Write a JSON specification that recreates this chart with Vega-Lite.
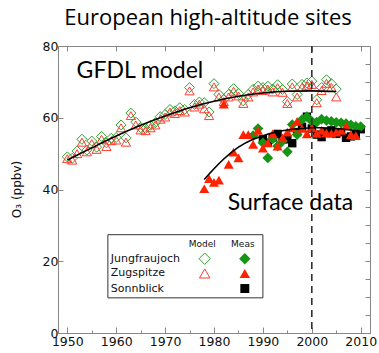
{
  "$schema": "https://vega.github.io/schema/vega-lite/v6.json",
  "width": 312,
  "height": 287,
  "autosize": "none",
  "padding": {"left": 58, "top": 46, "right": 9, "bottom": 20},
  "background": "white",
  "title": {"text": "European high-altitude sites", "font": "Open Sans", "fontSize": 22, "fontWeight": "normal", "color": "#000", "anchor": "middle", "baseline": "alphabetic", "offset": 6, "dx": -6, "dy": 13},
  "config": {
    "view": {"stroke": "#888", "strokeWidth": 1},
    "axis": {"grid": false, "domain": false, "tickColor": "#888", "tickWidth": 1, "labelFont": "DejaVu Sans", "labelFontSize": 12.5, "labelColor": "#111", "titleFont": "DejaVu Sans", "titleFontWeight": "normal", "titleColor": "#111"}
  },
  "datasets": {
    "model": [
      {"year": 1950, "site": "Jungfraujoch", "o3": 49.1}, {"year": 1951, "site": "Jungfraujoch", "o3": 48.7}, {"year": 1952, "site": "Jungfraujoch", "o3": 50.7}, {"year": 1953, "site": "Jungfraujoch", "o3": 54.0}, {"year": 1954, "site": "Jungfraujoch", "o3": 51.0}, {"year": 1955, "site": "Jungfraujoch", "o3": 53.5}, {"year": 1956, "site": "Jungfraujoch", "o3": 51.8}, {"year": 1957, "site": "Jungfraujoch", "o3": 54.8}, {"year": 1958, "site": "Jungfraujoch", "o3": 53.0}, {"year": 1959, "site": "Jungfraujoch", "o3": 54.3},
      {"year": 1960, "site": "Jungfraujoch", "o3": 54.5}, {"year": 1961, "site": "Jungfraujoch", "o3": 58.0}, {"year": 1962, "site": "Jungfraujoch", "o3": 54.4}, {"year": 1963, "site": "Jungfraujoch", "o3": 61.3}, {"year": 1964, "site": "Jungfraujoch", "o3": 58.8}, {"year": 1965, "site": "Jungfraujoch", "o3": 57.2}, {"year": 1966, "site": "Jungfraujoch", "o3": 57.0}, {"year": 1967, "site": "Jungfraujoch", "o3": 57.9}, {"year": 1968, "site": "Jungfraujoch", "o3": 58.6}, {"year": 1969, "site": "Jungfraujoch", "o3": 60.3},
      {"year": 1970, "site": "Jungfraujoch", "o3": 60.9}, {"year": 1971, "site": "Jungfraujoch", "o3": 62.3}, {"year": 1972, "site": "Jungfraujoch", "o3": 61.9}, {"year": 1973, "site": "Jungfraujoch", "o3": 62.8}, {"year": 1974, "site": "Jungfraujoch", "o3": 62.3}, {"year": 1975, "site": "Jungfraujoch", "o3": 68.4}, {"year": 1976, "site": "Jungfraujoch", "o3": 63.7}, {"year": 1977, "site": "Jungfraujoch", "o3": 64.4}, {"year": 1978, "site": "Jungfraujoch", "o3": 64.2}, {"year": 1979, "site": "Jungfraujoch", "o3": 61.6},
      {"year": 1980, "site": "Jungfraujoch", "o3": 69.5}, {"year": 1981, "site": "Jungfraujoch", "o3": 66.5}, {"year": 1982, "site": "Jungfraujoch", "o3": 65.1}, {"year": 1983, "site": "Jungfraujoch", "o3": 66.5}, {"year": 1984, "site": "Jungfraujoch", "o3": 68.1}, {"year": 1985, "site": "Jungfraujoch", "o3": 66.8}, {"year": 1986, "site": "Jungfraujoch", "o3": 64.7}, {"year": 1987, "site": "Jungfraujoch", "o3": 66.5}, {"year": 1988, "site": "Jungfraujoch", "o3": 67.9}, {"year": 1989, "site": "Jungfraujoch", "o3": 68.8},
      {"year": 1990, "site": "Jungfraujoch", "o3": 68.4}, {"year": 1991, "site": "Jungfraujoch", "o3": 68.8}, {"year": 1992, "site": "Jungfraujoch", "o3": 68.0}, {"year": 1993, "site": "Jungfraujoch", "o3": 69.2}, {"year": 1994, "site": "Jungfraujoch", "o3": 67.9}, {"year": 1995, "site": "Jungfraujoch", "o3": 64.5}, {"year": 1996, "site": "Jungfraujoch", "o3": 69.4}, {"year": 1997, "site": "Jungfraujoch", "o3": 66.5}, {"year": 1998, "site": "Jungfraujoch", "o3": 69.3}, {"year": 1999, "site": "Jungfraujoch", "o3": 69.7},
      {"year": 2000, "site": "Jungfraujoch", "o3": 70.2}, {"year": 2001, "site": "Jungfraujoch", "o3": 65.0}, {"year": 2002, "site": "Jungfraujoch", "o3": 68.4}, {"year": 2003, "site": "Jungfraujoch", "o3": 70.6}, {"year": 2004, "site": "Jungfraujoch", "o3": 69.5}, {"year": 2005, "site": "Jungfraujoch", "o3": 68.0},
      {"year": 1950, "site": "Zugspitze", "o3": 48.6}, {"year": 1951, "site": "Zugspitze", "o3": 48.2}, {"year": 1952, "site": "Zugspitze", "o3": 50.0}, {"year": 1953, "site": "Zugspitze", "o3": 53.2}, {"year": 1954, "site": "Zugspitze", "o3": 50.5}, {"year": 1955, "site": "Zugspitze", "o3": 52.8}, {"year": 1956, "site": "Zugspitze", "o3": 51.2}, {"year": 1957, "site": "Zugspitze", "o3": 54.0}, {"year": 1958, "site": "Zugspitze", "o3": 52.0}, {"year": 1959, "site": "Zugspitze", "o3": 53.6},
      {"year": 1960, "site": "Zugspitze", "o3": 53.8}, {"year": 1961, "site": "Zugspitze", "o3": 57.2}, {"year": 1962, "site": "Zugspitze", "o3": 53.2}, {"year": 1963, "site": "Zugspitze", "o3": 60.6}, {"year": 1964, "site": "Zugspitze", "o3": 58.0}, {"year": 1965, "site": "Zugspitze", "o3": 56.6}, {"year": 1966, "site": "Zugspitze", "o3": 56.4}, {"year": 1967, "site": "Zugspitze", "o3": 57.2}, {"year": 1968, "site": "Zugspitze", "o3": 58.0}, {"year": 1969, "site": "Zugspitze", "o3": 59.6},
      {"year": 1970, "site": "Zugspitze", "o3": 60.2}, {"year": 1971, "site": "Zugspitze", "o3": 61.6}, {"year": 1972, "site": "Zugspitze", "o3": 61.2}, {"year": 1973, "site": "Zugspitze", "o3": 62.0}, {"year": 1974, "site": "Zugspitze", "o3": 61.6}, {"year": 1975, "site": "Zugspitze", "o3": 67.5}, {"year": 1976, "site": "Zugspitze", "o3": 63.0}, {"year": 1977, "site": "Zugspitze", "o3": 63.8}, {"year": 1978, "site": "Zugspitze", "o3": 62.5}, {"year": 1979, "site": "Zugspitze", "o3": 60.6},
      {"year": 1980, "site": "Zugspitze", "o3": 68.6}, {"year": 1981, "site": "Zugspitze", "o3": 65.8}, {"year": 1982, "site": "Zugspitze", "o3": 64.5}, {"year": 1983, "site": "Zugspitze", "o3": 65.8}, {"year": 1984, "site": "Zugspitze", "o3": 67.4}, {"year": 1985, "site": "Zugspitze", "o3": 66.1}, {"year": 1986, "site": "Zugspitze", "o3": 64.0}, {"year": 1987, "site": "Zugspitze", "o3": 65.8}, {"year": 1988, "site": "Zugspitze", "o3": 67.2}, {"year": 1989, "site": "Zugspitze", "o3": 68.0},
      {"year": 1990, "site": "Zugspitze", "o3": 67.6}, {"year": 1991, "site": "Zugspitze", "o3": 68.0}, {"year": 1992, "site": "Zugspitze", "o3": 67.2}, {"year": 1993, "site": "Zugspitze", "o3": 68.4}, {"year": 1994, "site": "Zugspitze", "o3": 67.1}, {"year": 1995, "site": "Zugspitze", "o3": 64.0}, {"year": 1996, "site": "Zugspitze", "o3": 68.6}, {"year": 1997, "site": "Zugspitze", "o3": 65.8}, {"year": 1998, "site": "Zugspitze", "o3": 68.5}, {"year": 1999, "site": "Zugspitze", "o3": 68.9},
      {"year": 2000, "site": "Zugspitze", "o3": 69.3}, {"year": 2001, "site": "Zugspitze", "o3": 64.2}, {"year": 2002, "site": "Zugspitze", "o3": 67.6}, {"year": 2003, "site": "Zugspitze", "o3": 69.6}, {"year": 2004, "site": "Zugspitze", "o3": 68.5}, {"year": 2005, "site": "Zugspitze", "o3": 65.8}
    ],
    "meas": [
      {"year": 1990, "site": "Sonnblick", "o3": 54.0}, {"year": 1991, "site": "Sonnblick", "o3": 53.0}, {"year": 1992, "site": "Sonnblick", "o3": 54.5}, {"year": 1993, "site": "Sonnblick", "o3": 55.5}, {"year": 1994, "site": "Sonnblick", "o3": 54.0}, {"year": 1995, "site": "Sonnblick", "o3": 54.0}, {"year": 1996, "site": "Sonnblick", "o3": 52.9}, {"year": 1997, "site": "Sonnblick", "o3": 56.0}, {"year": 1998, "site": "Sonnblick", "o3": 57.5}, {"year": 1999, "site": "Sonnblick", "o3": 60.3},
      {"year": 2000, "site": "Sonnblick", "o3": 57.0}, {"year": 2001, "site": "Sonnblick", "o3": 55.3}, {"year": 2002, "site": "Sonnblick", "o3": 54.6}, {"year": 2003, "site": "Sonnblick", "o3": 56.0}, {"year": 2004, "site": "Sonnblick", "o3": 56.5}, {"year": 2005, "site": "Sonnblick", "o3": 55.5}, {"year": 2006, "site": "Sonnblick", "o3": 56.0}, {"year": 2007, "site": "Sonnblick", "o3": 54.4}, {"year": 2008, "site": "Sonnblick", "o3": 54.8}, {"year": 2009, "site": "Sonnblick", "o3": 55.5}, {"year": 2010, "site": "Sonnblick", "o3": 56.8},
      {"year": 1988, "site": "Jungfraujoch", "o3": 55.0}, {"year": 1989, "site": "Jungfraujoch", "o3": 57.0}, {"year": 1990, "site": "Jungfraujoch", "o3": 53.0}, {"year": 1991, "site": "Jungfraujoch", "o3": 48.8}, {"year": 1992, "site": "Jungfraujoch", "o3": 54.1}, {"year": 1993, "site": "Jungfraujoch", "o3": 52.1}, {"year": 1994, "site": "Jungfraujoch", "o3": 53.5}, {"year": 1995, "site": "Jungfraujoch", "o3": 50.5}, {"year": 1996, "site": "Jungfraujoch", "o3": 58.1}, {"year": 1997, "site": "Jungfraujoch", "o3": 55.3}, {"year": 1998, "site": "Jungfraujoch", "o3": 59.5}, {"year": 1999, "site": "Jungfraujoch", "o3": 60.3},
      {"year": 2000, "site": "Jungfraujoch", "o3": 59.0}, {"year": 2001, "site": "Jungfraujoch", "o3": 58.8}, {"year": 2002, "site": "Jungfraujoch", "o3": 59.6}, {"year": 2003, "site": "Jungfraujoch", "o3": 59.2}, {"year": 2004, "site": "Jungfraujoch", "o3": 59.0}, {"year": 2005, "site": "Jungfraujoch", "o3": 58.7}, {"year": 2006, "site": "Jungfraujoch", "o3": 58.6}, {"year": 2007, "site": "Jungfraujoch", "o3": 58.4}, {"year": 2008, "site": "Jungfraujoch", "o3": 58.0}, {"year": 2009, "site": "Jungfraujoch", "o3": 57.6}, {"year": 2010, "site": "Jungfraujoch", "o3": 57.5},
      {"year": 1978, "site": "Zugspitze", "o3": 40.2}, {"year": 1979, "site": "Zugspitze", "o3": 43.0}, {"year": 1980, "site": "Zugspitze", "o3": 42.0}, {"year": 1981, "site": "Zugspitze", "o3": 42.6}, {"year": 1982, "site": "Zugspitze", "o3": 63.8}, {"year": 1983, "site": "Zugspitze", "o3": 47.0}, {"year": 1984, "site": "Zugspitze", "o3": 50.4}, {"year": 1985, "site": "Zugspitze", "o3": 48.8}, {"year": 1986, "site": "Zugspitze", "o3": 55.3}, {"year": 1987, "site": "Zugspitze", "o3": 55.3}, {"year": 1988, "site": "Zugspitze", "o3": 52.6}, {"year": 1989, "site": "Zugspitze", "o3": 56.5},
      {"year": 1990, "site": "Zugspitze", "o3": 51.5}, {"year": 1991, "site": "Zugspitze", "o3": 53.0}, {"year": 1992, "site": "Zugspitze", "o3": 55.5}, {"year": 1993, "site": "Zugspitze", "o3": 52.1}, {"year": 1994, "site": "Zugspitze", "o3": 54.4}, {"year": 1995, "site": "Zugspitze", "o3": 56.0}, {"year": 1996, "site": "Zugspitze", "o3": 57.2}, {"year": 1997, "site": "Zugspitze", "o3": 59.0}, {"year": 1998, "site": "Zugspitze", "o3": 57.0}, {"year": 1999, "site": "Zugspitze", "o3": 55.5},
      {"year": 2000, "site": "Zugspitze", "o3": 57.2}, {"year": 2001, "site": "Zugspitze", "o3": 55.6}, {"year": 2002, "site": "Zugspitze", "o3": 56.5}, {"year": 2003, "site": "Zugspitze", "o3": 55.8}, {"year": 2004, "site": "Zugspitze", "o3": 55.6}, {"year": 2005, "site": "Zugspitze", "o3": 56.0}, {"year": 2006, "site": "Zugspitze", "o3": 56.5}, {"year": 2007, "site": "Zugspitze", "o3": 57.7}, {"year": 2008, "site": "Zugspitze", "o3": 55.3}, {"year": 2009, "site": "Zugspitze", "o3": 55.0}
    ],
    "fits": [
      {"year": 1950, "fit": "model", "o3": 48.2}, {"year": 1955, "fit": "model", "o3": 51.6}, {"year": 1960, "fit": "model", "o3": 54.9}, {"year": 1965, "fit": "model", "o3": 57.9}, {"year": 1970, "fit": "model", "o3": 60.5}, {"year": 1975, "fit": "model", "o3": 62.8}, {"year": 1980, "fit": "model", "o3": 64.6}, {"year": 1985, "fit": "model", "o3": 66.0}, {"year": 1990, "fit": "model", "o3": 66.9}, {"year": 1995, "fit": "model", "o3": 67.4}, {"year": 2000, "fit": "model", "o3": 67.5}, {"year": 2005, "fit": "model", "o3": 67.3},
      {"year": 1978, "fit": "meas", "o3": 42.8}, {"year": 1980, "fit": "meas", "o3": 45.8}, {"year": 1982, "fit": "meas", "o3": 48.5}, {"year": 1985, "fit": "meas", "o3": 51.8}, {"year": 1988, "fit": "meas", "o3": 54.0}, {"year": 1990, "fit": "meas", "o3": 55.0}, {"year": 1993, "fit": "meas", "o3": 56.1}, {"year": 1995, "fit": "meas", "o3": 56.6}, {"year": 1998, "fit": "meas", "o3": 57.0}, {"year": 2000, "fit": "meas", "o3": 57.2}, {"year": 2002, "fit": "meas", "o3": 57.2}, {"year": 2005, "fit": "meas", "o3": 57.0}, {"year": 2008, "fit": "meas", "o3": 56.6}, {"year": 2010, "fit": "meas", "o3": 56.2}
    ]
  },
  "resolve": {"axis": {"x": "independent", "y": "independent"}},
  "layer": [
    {
      "layer": [
        {
          "data": {"name": "model"},
          "transform": [{"filter": "datum.site === 'Jungfraujoch'"}],
          "mark": {"type": "point", "shape": "diamond", "filled": false, "size": 100, "strokeWidth": 1, "color": "#2ca02c", "opacity": 1},
          "encoding": {
            "x": {"field": "year", "type": "quantitative", "scale": {"domain": [1948.1, 2011.9], "nice": false, "zero": false},
                  "axis": {"orient": "bottom", "values": [1950, 1960, 1970, 1980, 1990, 2000, 2010], "format": "d", "tickSize": -6, "labelPadding": 8, "title": null}},
            "y": {"field": "o3", "type": "quantitative", "scale": {"domain": [0, 80], "nice": false, "zero": true},
                  "axis": {"orient": "left", "values": [0, 5, 10, 15, 20, 25, 30, 35, 40, 45, 50, 55, 60, 65, 70, 75, 80], "labelExpr": "datum.value % 20 === 0 ? datum.label : ''", "tickSize": -5, "labelPadding": 5, "title": "O₃ (ppbv)", "titleFontSize": 12, "titleX": -42, "titleY": 143, "titleBaseline": "middle", "titleAngle": 270, "titleAlign": "center"}}
          }
        },
        {
          "data": {"name": "model"},
          "transform": [{"filter": "datum.site === 'Zugspitze'"}],
          "mark": {"type": "point", "shape": "triangle-up", "filled": false, "size": 85, "strokeWidth": 1, "color": "#ff3a30", "opacity": 1},
          "encoding": {"x": {"field": "year", "type": "quantitative"}, "y": {"field": "o3", "type": "quantitative"}}
        },
        {
          "data": {"name": "fits"},
          "transform": [{"filter": "datum.fit === 'model'"}],
          "mark": {"type": "line", "color": "#000", "strokeWidth": 1.6, "interpolate": "monotone"},
          "encoding": {"x": {"field": "year", "type": "quantitative"}, "y": {"field": "o3", "type": "quantitative"}}
        },
        {
          "data": {"name": "meas"},
          "transform": [{"filter": "datum.site === 'Sonnblick'"}],
          "mark": {"type": "point", "shape": "square", "filled": true, "size": 70, "color": "#000", "opacity": 1},
          "encoding": {"x": {"field": "year", "type": "quantitative"}, "y": {"field": "o3", "type": "quantitative"}}
        },
        {
          "data": {"name": "meas"},
          "transform": [{"filter": "datum.site === 'Jungfraujoch'"}],
          "mark": {"type": "point", "shape": "diamond", "filled": true, "size": 115, "color": "#149614", "opacity": 1},
          "encoding": {"x": {"field": "year", "type": "quantitative"}, "y": {"field": "o3", "type": "quantitative"}}
        },
        {
          "data": {"name": "meas"},
          "transform": [{"filter": "datum.site === 'Zugspitze'"}],
          "mark": {"type": "point", "shape": "triangle-up", "filled": true, "size": 100, "color": "#ff2200", "opacity": 1},
          "encoding": {"x": {"field": "year", "type": "quantitative"}, "y": {"field": "o3", "type": "quantitative"}}
        },
        {
          "data": {"name": "fits"},
          "transform": [{"filter": "datum.fit === 'meas'"}],
          "mark": {"type": "line", "color": "#000", "strokeWidth": 1.6, "interpolate": "monotone"},
          "encoding": {"x": {"field": "year", "type": "quantitative"}, "y": {"field": "o3", "type": "quantitative"}}
        },
        {
          "data": {"values": [{}]},
          "mark": {"type": "rule", "color": "#333", "strokeWidth": 1.6, "strokeDash": [7, 5]},
          "encoding": {"x": {"datum": 2000, "type": "quantitative"}}
        },
        {
          "data": {"values": [{}]},
          "mark": {"type": "text", "text": "GFDL model", "font": "Lato", "fontSize": 23, "align": "left", "baseline": "alphabetic", "color": "#000"},
          "encoding": {"x": {"datum": 1951.9, "type": "quantitative"}, "y": {"datum": 71.0, "type": "quantitative"}}
        },
        {
          "data": {"values": [{}]},
          "mark": {"type": "text", "text": "Surface data", "font": "Lato", "fontSize": 23, "align": "left", "baseline": "alphabetic", "color": "#000"},
          "encoding": {"x": {"datum": 1982.8, "type": "quantitative"}, "y": {"datum": 34.4, "type": "quantitative"}}
        },
        {
          "data": {"values": [{}]},
          "mark": {"type": "rect", "fill": "white", "stroke": "#333", "strokeWidth": 1},
          "encoding": {"x": {"datum": 1958.3, "type": "quantitative"}, "x2": {"datum": 1990.0}, "y": {"datum": 27.4, "type": "quantitative"}, "y2": {"datum": 9.8}}
        },
        {
          "data": {"values": [{}]},
          "mark": {"type": "text", "text": "Model", "font": "DejaVu Sans", "fontSize": 9, "align": "center", "baseline": "middle", "color": "#111"},
          "encoding": {"x": {"datum": 1977.6, "type": "quantitative"}, "y": {"datum": 24.8, "type": "quantitative"}}
        },
        {
          "data": {"values": [{}]},
          "mark": {"type": "text", "text": "Meas", "font": "DejaVu Sans", "fontSize": 9, "align": "center", "baseline": "middle", "color": "#111"},
          "encoding": {"x": {"datum": 1985.9, "type": "quantitative"}, "y": {"datum": 24.8, "type": "quantitative"}}
        },
        {
          "data": {"values": [{}]},
          "mark": {"type": "text", "text": "Jungfraujoch", "font": "DejaVu Sans", "fontSize": 11, "align": "left", "baseline": "middle", "color": "#111"},
          "encoding": {"x": {"datum": 1958.9, "type": "quantitative"}, "y": {"datum": 20.7, "type": "quantitative"}}
        },
        {
          "data": {"values": [{}]},
          "mark": {"type": "text", "text": "Zugspitze", "font": "DejaVu Sans", "fontSize": 11, "align": "left", "baseline": "middle", "color": "#111"},
          "encoding": {"x": {"datum": 1958.9, "type": "quantitative"}, "y": {"datum": 16.6, "type": "quantitative"}}
        },
        {
          "data": {"values": [{}]},
          "mark": {"type": "text", "text": "Sonnblick", "font": "DejaVu Sans", "fontSize": 11, "align": "left", "baseline": "middle", "color": "#111"},
          "encoding": {"x": {"datum": 1958.9, "type": "quantitative"}, "y": {"datum": 12.4, "type": "quantitative"}}
        },
        {
          "data": {"values": [{}]},
          "mark": {"type": "point", "shape": "diamond", "filled": false, "size": 130, "strokeWidth": 1, "color": "#2ca02c", "opacity": 1},
          "encoding": {"x": {"datum": 1978.1, "type": "quantitative"}, "y": {"datum": 20.7, "type": "quantitative"}}
        },
        {
          "data": {"values": [{}]},
          "mark": {"type": "point", "shape": "diamond", "filled": true, "size": 130, "color": "#149614", "opacity": 1},
          "encoding": {"x": {"datum": 1986.3, "type": "quantitative"}, "y": {"datum": 20.7, "type": "quantitative"}}
        },
        {
          "data": {"values": [{}]},
          "mark": {"type": "point", "shape": "triangle-up", "filled": false, "size": 110, "strokeWidth": 1, "color": "#ff3a30", "opacity": 1},
          "encoding": {"x": {"datum": 1978.1, "type": "quantitative"}, "y": {"datum": 16.6, "type": "quantitative"}}
        },
        {
          "data": {"values": [{}]},
          "mark": {"type": "point", "shape": "triangle-up", "filled": true, "size": 110, "color": "#ff2200", "opacity": 1},
          "encoding": {"x": {"datum": 1986.3, "type": "quantitative"}, "y": {"datum": 16.6, "type": "quantitative"}}
        },
        {
          "data": {"values": [{}]},
          "mark": {"type": "point", "shape": "square", "filled": true, "size": 80, "color": "#000", "opacity": 1},
          "encoding": {"x": {"datum": 1986.3, "type": "quantitative"}, "y": {"datum": 12.4, "type": "quantitative"}}
        }
      ]
    },
    {
      "data": {"name": "fits"},
      "mark": {"type": "point", "opacity": 0},
      "encoding": {
        "x": {"field": "year", "type": "quantitative", "scale": {"domain": [1948.1, 2011.9], "nice": false, "zero": false},
              "axis": {"orient": "top", "values": [1950, 1960, 1970, 1980, 1990, 2000, 2010], "labels": false, "tickSize": -5, "title": null}},
        "y": {"field": "o3", "type": "quantitative", "scale": {"domain": [0, 80], "nice": false},
              "axis": {"orient": "right", "values": [0, 5, 10, 15, 20, 25, 30, 35, 40, 45, 50, 55, 60, 65, 70, 75, 80], "labels": false, "tickSize": -5, "title": null}}
      }
    },
    {
      "data": {"name": "fits"},
      "mark": {"type": "point", "opacity": 0},
      "encoding": {
        "x": {"field": "year", "type": "quantitative",
              "axis": {"orient": "bottom", "values": [1955, 1965, 1975, 1985, 1995, 2005], "labels": false, "tickSize": -3, "title": null}},
        "y": {"field": "o3", "type": "quantitative", "axis": null}
      }
    }
  ]
}
